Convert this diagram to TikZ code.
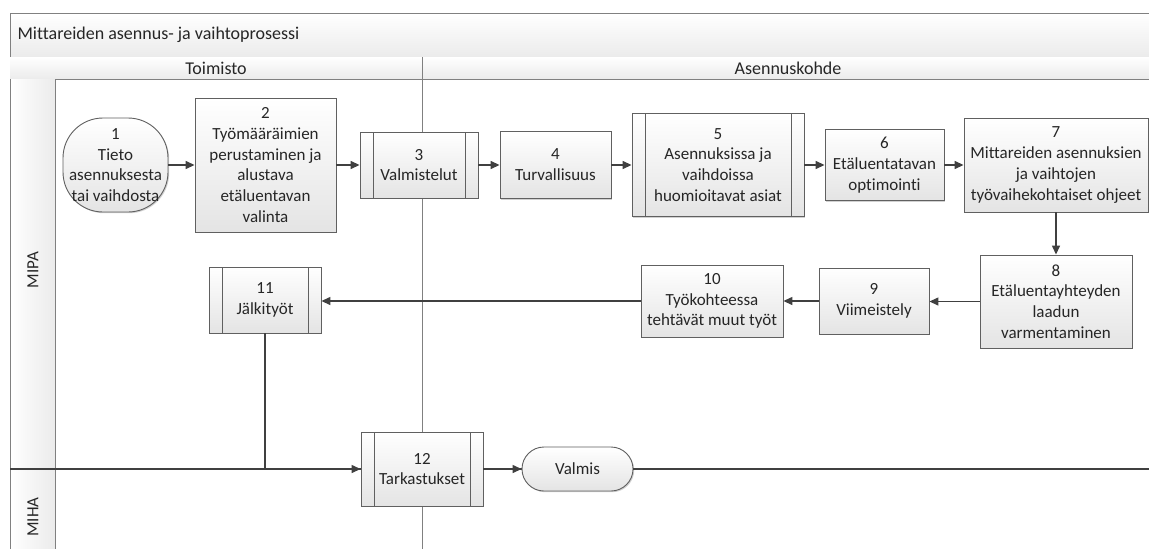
\documentclass[tikz,border=0pt]{standalone}
\usepackage{fontspec}
\setmainfont{Carlito}[Ligatures=NoCommon]
\usetikzlibrary{arrows.meta,shadows}
\definecolor{boxline}{HTML}{606060}
\definecolor{arrowc}{HTML}{404040}
\definecolor{frameline}{HTML}{808080}
\definecolor{boxbot}{HTML}{E4E4E4}
\definecolor{bandbot}{HTML}{EBEBEB}
\tikzset{
  txt/.style={font=\fontsize{17}{20.8}\selectfont, text=black!85},
  headtxt/.style={font=\fontsize{18}{21}\selectfont, text=black!85},
  proc/.style={rectangle, draw=boxline, line width=0.9pt, top color=white, bottom color=boxbot,
    align=center, inner sep=0pt, txt,
    drop shadow={shadow xshift=1.2pt, shadow yshift=-1.2pt, fill=black, opacity=0.18}},
  sub/.style={proc, path picture={
    \draw[boxline, line width=0.9pt] ([xshift=13pt]path picture bounding box.north west) -- ([xshift=13pt]path picture bounding box.south west);
    \draw[boxline, line width=0.9pt] ([xshift=-13pt]path picture bounding box.north east) -- ([xshift=-13pt]path picture bounding box.south east);}},
  term/.style={proc, rounded corners=#1},
  conn/.style={draw=arrowc, line width=1.4pt, -{Triangle[length=9pt,width=8pt]}},
  plainconn/.style={draw=arrowc, line width=1.4pt},
  lanetxt/.style={font=\fontsize{17}{20}\selectfont, text=black!85, rotate=90},
}
\begin{document}
\begin{tikzpicture}[x=1pt,y=-1pt]
\useasboundingbox[fill=white] (0,0) rectangle (1149,549);
% title band
\shade[top color=white, bottom color=bandbot] (10,13) rectangle (1149,57);
\draw[frameline, line width=1pt] (1149,13) -- (10,13) -- (10,549);
\draw[frameline, line width=1pt] (10,57) -- (1149,57);
\node[anchor=west, headtxt] (title) at (14,35) {Mittareiden asennus- ja vaihtoprosessi};
% column header band
\shade[top color=white, bottom color=bandbot] (10,57) rectangle (1149,79);
\draw[frameline, line width=1pt] (10,79) -- (1149,79);
\node[headtxt] (toimisto) at (216,68) {Toimisto};
\node[headtxt] (asennus) at (788,68) {Asennuskohde};
% lane header column
\shade[left color=white, right color=bandbot] (10,79) rectangle (55,549);
\draw[frameline, line width=1pt] (55,79) -- (55,549);
\draw[frameline, line width=1pt] (10,79) -- (10,549);
\node[lanetxt] (mipa) at (33,270) {MIPA};
\node[lanetxt] (miha) at (33,517) {MIHA};
% column divider
\draw[frameline, line width=1pt] (422,57) -- (422,549);
% lane divider
\draw[arrowc, line width=1.8pt] (10,469) -- (1149,469);

% nodes
\node[term=40pt, minimum width=105pt, minimum height=94pt] (n1) at (115.5,165) {1\\Tieto\\asennuksesta\\tai vaihdosta};
\node[proc, minimum width=141pt, minimum height=134pt] (n2) at (265.5,165) {2\\Työmääräimien\\perustaminen ja\\alustava\\etäluentavan\\valinta};
\node[sub, minimum width=118pt, minimum height=66pt] (n3) at (419,165) {3\\Valmistelut};
\node[proc, minimum width=111pt, minimum height=67pt] (n4) at (555.5,165) {4\\Turvallisuus};
\node[sub, minimum width=172pt, minimum height=103pt] (n5) at (718,165) {5\\Asennuksissa ja\\vaihdoissa\\huomioitavat asiat};
\node[proc, minimum width=119pt, minimum height=71pt] (n6) at (884.5,165) {6\\Etäluentatavan\\optimointi};
\node[proc, minimum width=184pt, minimum height=94pt] (n7) at (1056,165) {7\\Mittareiden asennuksien\\ja vaihtojen\\työvaihekohtaiset ohjeet};
\node[proc, minimum width=152pt, minimum height=93pt] (n8) at (1056,301.5) {8\\Etäluentayhteyden\\laadun\\varmentaminen};
\node[proc, minimum width=110pt, minimum height=66pt] (n9) at (874,301) {9\\Viimeistely};
\node[proc, minimum width=142pt, minimum height=72pt] (n10) at (712,301) {10\\Työkohteessa\\tehtävät muut työt};
\node[sub, minimum width=112pt, minimum height=66pt] (n11) at (265,300) {11\\Jälkityöt};
\node[sub, minimum width=122pt, minimum height=74pt] (n12) at (422,469) {12\\Tarkastukset};
\node[term=22pt, minimum width=111pt, minimum height=44pt] (valmis) at (577.5,469) {Valmis};
\coordinate (endR) at (1149,469);

% connectors
\draw[conn] (n1.east) -- (n1.east -| n2.west);
\draw[conn] (n2.east) -- (n2.east -| n3.west);
\draw[conn] (n3.east) -- (n3.east -| n4.west);
\draw[conn] (n4.east) -- (n4.east -| n5.west);
\draw[conn] (n5.east) -- (n5.east -| n6.west);
\draw[conn] (n6.east) -- (n6.east -| n7.west);
\draw[conn] (n7.south) -- (n8.north);
\draw[conn] (n8.west) -- (n8.west -| n9.east);
\draw[conn] (n9.west) -- (n9.west -| n10.east);
\draw[conn] (n10.west) -- (n10.west -| n11.east);
\draw[conn] (n11.south) |- (n12.west);
\draw[conn] (n12.east) -- (valmis.west);
\draw[plainconn] (valmis.east) -- (endR);
\end{tikzpicture}
\end{document}
